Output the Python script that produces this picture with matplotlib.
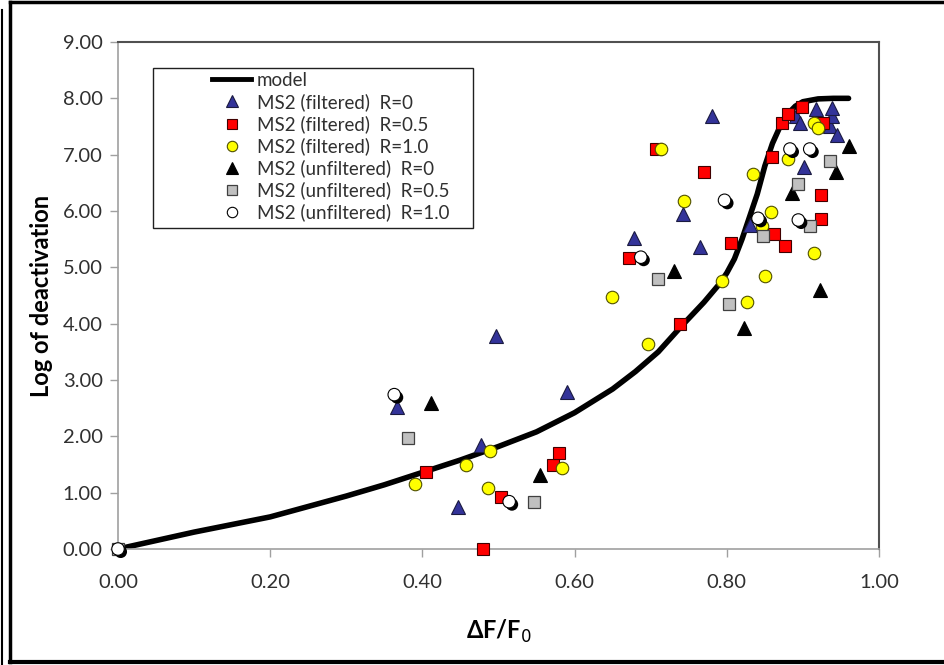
import matplotlib
matplotlib.use("Agg")
import matplotlib.pyplot as plt
import matplotlib.patheffects as pe
from matplotlib.lines import Line2D
from matplotlib.patches import Rectangle

plt.rcParams['font.family'] = ['Lato', 'DejaVu Sans']

# model curve
model_x = [0, 0.1, 0.2, 0.3, 0.35, 0.4, 0.45, 0.5, 0.55, 0.6, 0.65, 0.68, 0.71, 0.74, 0.77,
           0.79, 0.8, 0.81, 0.82, 0.83, 0.84, 0.85, 0.86, 0.87, 0.88, 0.89, 0.9, 0.92, 0.94, 0.96]
model_y = [0, 0.3, 0.57, 0.94, 1.14, 1.36, 1.58, 1.82, 2.08, 2.42, 2.84, 3.15, 3.5, 3.95, 4.38,
           4.7, 4.9, 5.15, 5.5, 5.9, 6.3, 6.8, 7.2, 7.5, 7.72, 7.86, 7.94, 7.99, 8.0, 8.0]

# MS2 (filtered) R=0
f0_x = [0.366, 0.447, 0.477, 0.497, 0.590, 0.678, 0.743, 0.765, 0.781, 0.831, 0.891,
        0.896, 0.901, 0.917, 0.936, 0.938, 0.938, 0.945]
f0_y = [2.52, 0.75, 1.85, 3.78, 2.79, 5.52, 5.95, 5.36, 7.68, 5.75, 7.68,
        7.56, 6.78, 7.81, 7.51, 7.68, 7.83, 7.35]

# MS2 (filtered) R=0.5
f05_x = [0.405, 0.479, 0.503, 0.571, 0.579, 0.672, 0.707, 0.738, 0.770, 0.805, 0.859,
         0.862, 0.873, 0.877, 0.881, 0.899, 0.924, 0.924, 0.927]
f05_y = [1.36, 0.0, 0.92, 1.50, 1.70, 5.16, 7.10, 4.00, 6.69, 5.44, 6.96,
         5.60, 7.57, 5.38, 7.72, 7.84, 5.86, 6.29, 7.57]

# MS2 (filtered) R=1.0
f1_x = [0.390, 0.457, 0.486, 0.489, 0.583, 0.649, 0.696, 0.713, 0.744, 0.794, 0.826,
        0.835, 0.846, 0.850, 0.858, 0.881, 0.915, 0.915, 0.920]
f1_y = [1.15, 1.49, 1.09, 1.74, 1.44, 4.48, 3.64, 7.10, 6.17, 4.75, 4.39,
        6.66, 5.73, 4.84, 5.98, 6.93, 5.26, 7.57, 7.48]

# MS2 (unfiltered) R=0
u0_x = [0.411, 0.555, 0.730, 0.823, 0.886, 0.922, 0.944, 0.961]
u0_y = [2.59, 1.31, 4.93, 3.93, 6.32, 4.60, 6.70, 7.16]

# MS2 (unfiltered) R=0.5
u05_x = [0.0, 0.381, 0.546, 0.709, 0.803, 0.848, 0.894, 0.909, 0.936]
u05_y = [0.0, 1.97, 0.84, 4.79, 4.35, 5.55, 6.48, 5.74, 6.89]

# MS2 (unfiltered) R=1.0
u1_x = [0.0, 0.363, 0.514, 0.687, 0.797, 0.841, 0.883, 0.894, 0.909]
u1_y = [0.0, 2.74, 0.84, 5.18, 6.19, 5.87, 7.10, 5.84, 7.10]

labels = ['model', 'MS2 (filtered)  R=0', 'MS2 (filtered)  R=0.5', 'MS2 (filtered)  R=1.0',
          'MS2 (unfiltered)  R=0', 'MS2 (unfiltered)  R=0.5', 'MS2 (unfiltered)  R=1.0']

fig = plt.figure(figsize=(9.45, 6.65), dpi=100)
ax = fig.add_axes([118/945, 1-549/665, 761/945, 507/665])

ax.plot(model_x, model_y, color='black', lw=4, solid_capstyle='round',
        solid_joinstyle='round', zorder=2)

# stile dei marker
st_f0 = dict(marker='^', ms=10, mfc='#333399', mec='#1a1a40', mew=0.8)
st_f05 = dict(marker='s', ms=9, mfc='#ff0000', mec='#400000', mew=0.8)
st_f1 = dict(marker='o', ms=9, mfc='#ffff00', mec='#505000', mew=0.8)
st_u0 = dict(marker='^', ms=10, mfc='black', mec='black', mew=0.8)
st_u05 = dict(marker='s', ms=9, mfc='#c0c0c0', mec='#404040', mew=0.9)
st_u1 = dict(marker='o', ms=9, mfc='white', mec='black', mew=0.8)

ax.plot(f0_x, f0_y, ls='none', zorder=3, clip_on=False, **st_f0)
ax.plot(f05_x, f05_y, ls='none', zorder=3, clip_on=False, **st_f05)
ax.plot(f1_x, f1_y, ls='none', zorder=3, clip_on=False, **st_f1)
ax.plot(u0_x, u0_y, ls='none', zorder=3, clip_on=False, **st_u0)
ax.plot(u05_x, u05_y, ls='none', zorder=3, clip_on=False, **st_u05)
ax.plot(u1_x, u1_y, ls='none', zorder=4, clip_on=False,
        path_effects=[pe.SimplePatchShadow(offset=(2, -2), shadow_rgbFace='black', alpha=1.0),
                      pe.Normal()], **st_u1)

ax.set_xlim(0, 1)
ax.set_ylim(0, 9)
ax.set_xticks([0, 0.2, 0.4, 0.6, 0.8, 1.0])
ax.set_yticks(range(10))
ax.xaxis.set_major_formatter(matplotlib.ticker.FormatStrFormatter('%.2f'))
ax.yaxis.set_major_formatter(matplotlib.ticker.FormatStrFormatter('%.2f'))
ax.tick_params(direction='out', length=6, width=1, color='#a0a0a0',
               labelsize=14.5, labelcolor='#303030', pad=5)
ax.tick_params(axis='x', pad=12)
for s in ['left', 'bottom']:
    ax.spines[s].set_color('#a0a0a0')
    ax.spines[s].set_linewidth(1.2)
for s in ['top', 'right']:
    ax.spines[s].set_color('#505050')
    ax.spines[s].set_linewidth(1.5)

ax.set_xlabel('ΔF/F$_0$', fontsize=17, fontweight='bold', labelpad=19)
ax.set_ylabel('Log of deactivation', fontsize=17, fontweight='bold', labelpad=7)

handles = [Line2D([], [], color='black', lw=3.5)]
for st in [st_f0, st_f05, st_f1, st_u0, st_u05, st_u1]:
    h = dict(st)
    h['ms'] = h['ms'] - 1.5
    handles.append(Line2D([], [], ls='none', **h))
leg = ax.legend(handles, labels, loc='upper left', bbox_to_anchor=(212/945, 1-72/665),
                bbox_transform=fig.transFigure, fontsize=13.5, frameon=False,
                handlelength=2.1, handletextpad=0.3,
                labelspacing=0.22, borderpad=0, borderaxespad=0)
for t in leg.get_texts():
    t.set_color('#303030')
leg.set_zorder(6)

# riquadro della legenda
ax.add_patch(Rectangle((153/945, 1-228/665), 320/945, 160/665, transform=fig.transFigure,
                       facecolor='white', edgecolor='#202020', lw=1.0, zorder=5, clip_on=False))

# cornice esterna
fig.add_artist(Line2D([10/945, 1], [1-2/665, 1-2/665], color='black', lw=2.5))
fig.add_artist(Line2D([10/945, 10/945], [1-2/665, 1-662/665], color='black', lw=2.5))
fig.add_artist(Line2D([10/945, 1], [1-662/665, 1-662/665], color='black', lw=3))
fig.add_artist(Line2D([2/945, 2/945], [1-10/665, 0], color='black', lw=1.5))

fig.savefig('out.png', dpi=100)
